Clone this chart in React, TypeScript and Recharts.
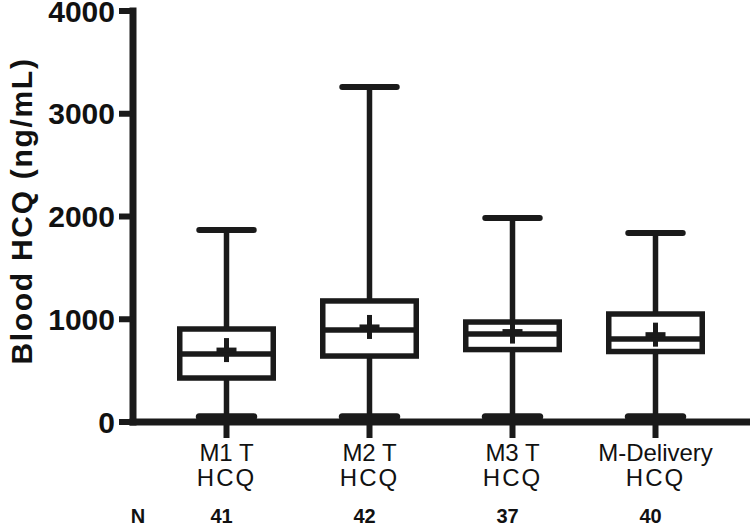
import { ComposedChart, Bar, Scatter, XAxis, YAxis, Label } from "recharts";

const categoryLine1 = ["M1 T", "M2 T", "M3 T", "M-Delivery"];
const categoryLine2 = ["HCQ", "HCQ", "HCQ", "HCQ"];
const nCounts = [41, 42, 37, 40];

const minValues = [50, 50, 50, 50];
const q1Values = [428, 642, 705, 686];
const medianValues = [662, 895, 856, 808];
const q3Values = [905, 1178, 973, 1051];
const maxValues = [1869, 3260, 1985, 1839];
const meanValues = [700, 925, 880, 850];

const yTicks = [0, 1000, 2000, 3000, 4000];

const data = categoryLine1.map((name, i) => ({
  name,
  min: minValues[i],
  q1: q1Values[i],
  median: medianValues[i],
  q3: q3Values[i],
  max: maxValues[i],
  mean: meanValues[i],
}));

const INK = "#1a1a1a";
const FONT = "Arial, 'Liberation Sans', sans-serif";

function BoxShape(props: any) {
  const { x, y, width, height, payload } = props;
  const span = payload.max - payload.min;
  const py = (v: number) => y + (height * (payload.max - v)) / span;
  const cx = x + width / 2;
  const capW = width * 0.55;
  const top = py(payload.q3);
  const bottom = py(payload.q1);

  return (
    <g>
      <line x1={cx} x2={cx} y1={py(payload.max)} y2={py(payload.min)} stroke={INK} strokeWidth={5.5} />
      <line
        x1={cx - capW / 2}
        x2={cx + capW / 2}
        y1={py(payload.max)}
        y2={py(payload.max)}
        stroke={INK}
        strokeWidth={6}
        strokeLinecap="round"
      />
      <line
        x1={cx - capW / 2}
        x2={cx + capW / 2}
        y1={py(payload.min)}
        y2={py(payload.min)}
        stroke={INK}
        strokeWidth={7}
        strokeLinecap="round"
      />
      <rect
        x={x + 2.75}
        y={top}
        width={width - 5.5}
        height={bottom - top}
        fill="#fff"
        stroke={INK}
        strokeWidth={5.5}
      />
      <line
        x1={x + 2.75}
        x2={x + width - 2.75}
        y1={py(payload.median)}
        y2={py(payload.median)}
        stroke={INK}
        strokeWidth={5.5}
      />
    </g>
  );
}

function MeanMark(props: any) {
  const { cx, cy } = props;
  return (
    <g>
      <line x1={cx} x2={cx} y1={cy - 12} y2={cy + 12} stroke={INK} strokeWidth={5} />
      <line x1={cx - 10} x2={cx + 10} y1={cy} y2={cy} stroke={INK} strokeWidth={5} />
    </g>
  );
}

function CategoryTick(props: any) {
  const { x, y, payload } = props;
  const i = categoryLine1.indexOf(payload.value);
  const style = { fontFamily: FONT, fill: "#111" };
  return (
    <g>
      <text x={x} y={y + 21} textAnchor="middle" fontSize={24} style={style}>
        {categoryLine1[i]}
      </text>
      <text x={x} y={y + 46} textAnchor="middle" fontSize={24} letterSpacing={2} style={style}>
        {categoryLine2[i]}
      </text>
      <text x={x - 5} y={y + 83} textAnchor="middle" fontSize={20} fontWeight="bold" style={style}>
        {nCounts[i]}
      </text>
      {i === 0 && (
        <text x={138} y={y + 83} textAnchor="middle" fontSize={20} fontWeight="bold" style={style}>
          N
        </text>
      )}
    </g>
  );
}

export default function App() {
  return (
    <div style={{ position: "absolute", left: 0, top: 0, background: "#fff" }}>
      <ComposedChart width={750} height={528} data={data} margin={{ top: 11, right: 2, left: 0, bottom: 0 }}>
        <XAxis
          dataKey="name"
          type="category"
          height={106}
          padding={{ left: 22, right: 21 }}
          axisLine={{ stroke: INK, strokeWidth: 7, strokeLinecap: "square" }}
          tickLine={{ stroke: INK, strokeWidth: 6 }}
          tickSize={16}
          tickMargin={2}
          tick={<CategoryTick />}
          interval={0}
        />
        <YAxis
          width={133}
          domain={[0, 4000]}
          ticks={yTicks}
          interval={0}
          axisLine={{ stroke: INK, strokeWidth: 7, strokeLinecap: "square" }}
          tickLine={{ stroke: INK, strokeWidth: 6 }}
          tickSize={14}
          tickMargin={4}
          tick={{ fill: "#111", fontSize: 30, fontWeight: "bold", fontFamily: FONT }}
        >
          <Label
            content={() => (
              <text
                x={32}
                y={211}
                transform="rotate(-90, 32, 211)"
                textAnchor="middle"
                fontSize={30}
                fontWeight="bold"
                letterSpacing={1.7}
                fontFamily={FONT}
                fill="#111"
              >
                Blood HCQ (ng/mL)
              </text>
            )}
          />
        </YAxis>
        <Bar dataKey={(d: any) => [d.min, d.max]} barSize={99} shape={<BoxShape />} isAnimationActive={false} />
        <Scatter dataKey="mean" shape={<MeanMark />} isAnimationActive={false} />
      </ComposedChart>
    </div>
  );
}
